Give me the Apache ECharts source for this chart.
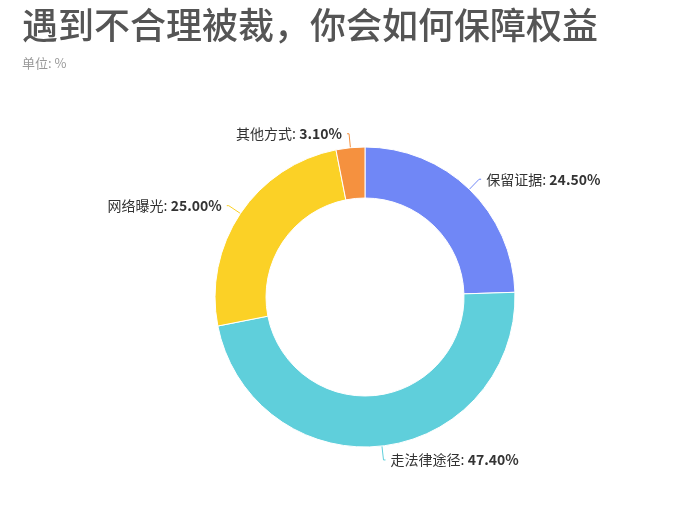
<!DOCTYPE html>
<html>
<head>
    <meta charset="utf-8" />
    <title>保障权益</title>
    <script src="https://cdn.jsdelivr.net/npm/echarts@6/dist/echarts.min.js"></script>
    <style>
        html, body { margin: 0; padding: 0; background: #fff; }
        #main { width: 691px; height: 518px; }
    </style>
</head>
<body>
    <div id="main"></div>
    <script type="text/javascript">
        // 数据
        var names = ['保留证据', '走法律途径', '网络曝光', '其他方式'];
        var values = [24.5, 47.4, 25.0, 3.1];
        var colors = ['#7087f6', '#5fcfdb', '#fbd126', '#f5913f'];

        var pieData = [];
        for (var i = 0; i < names.length; i++) {
            pieData.push({ name: names[i], value: values[i], itemStyle: { color: colors[i] } });
        }

        var myChart = echarts.init(document.getElementById('main'));
        myChart.setOption({
            animation: false,
            title: {
                text: '遇到不合理被裁，你会如何保障权益',
                subtext: '单位: %',
                left: 17,
                top: 2,
                itemGap: 14,
                textStyle: {
                    fontFamily: 'Noto Sans CJK SC',
                    fontSize: 36,
                    fontWeight: 500,
                    color: '#555555'
                },
                subtextStyle: {
                    fontFamily: 'Noto Sans CJK SC',
                    fontSize: 13,
                    color: '#999999'
                }
            },
            series: [{
                type: 'pie',
                center: [365, 297],
                radius: [99, 150],
                startAngle: 90,
                clockwise: true,
                itemStyle: {
                    borderColor: '#ffffff',
                    borderWidth: 1
                },
                label: {
                    formatter: function (p) {
                        return '{n|' + p.name + ':} {v|' + p.value.toFixed(2) + '%}';
                    },
                    rich: {
                        n: { fontFamily: 'Noto Sans CJK SC', fontSize: 14, color: '#333333' },
                        v: { fontFamily: 'Noto Sans CJK SC', fontSize: 14, color: '#333333', fontWeight: 'bold' }
                    }
                },
                labelLine: {
                    length: 14,
                    length2: 2,
                    lineStyle: { width: 1 }
                },
                data: pieData
            }]
        });
    </script>
</body>
</html>
